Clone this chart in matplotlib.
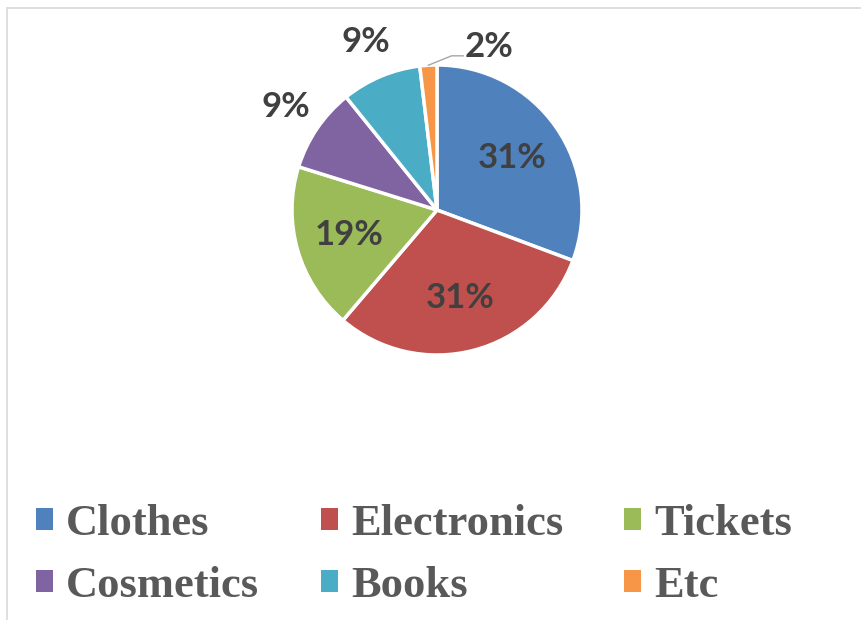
import matplotlib.pyplot as plt
import numpy as np
from matplotlib.patches import Rectangle

# purchase categories and their shares (%)
categories = ['Clothes', 'Electronics', 'Tickets', 'Cosmetics', 'Books', 'Etc']
shares = [30.7, 30.6, 18.6, 9.4, 8.9, 1.9]
colors = ['#4F81BD', '#C0504D', '#9BBB59', '#8064A2', '#4BACC6', '#F79646']

W, H = 861, 620
fig = plt.figure(figsize=(W / 100, H / 100), dpi=100)

# light frame like the office chart area
fig.patches.append(Rectangle((7 / W, -0.05), 1.1, 1 - 8 / H + 0.05, transform=fig.transFigure,
                             fill=False, edgecolor='#d9d9d9', linewidth=1.2))

cx, cy, r = 437, 210, 145
ax = fig.add_axes([(cx - r) / W, (H - cy - r) / H, 2 * r / W, 2 * r / H])

wedges, _ = ax.pie(shares, colors=colors, startangle=90, counterclock=False,
                   wedgeprops=dict(edgecolor='white', linewidth=2.5))
ax.set_xlim(-1, 1)
ax.set_ylim(-1, 1)
ax.set_aspect('equal')

total = sum(shares)
lblfont = dict(fontsize=25, fontweight='bold', color='#404040', family='Lato')
for w, v in zip(wedges, shares):
    mid = np.deg2rad((w.theta1 + w.theta2) / 2)
    pct = '%.0f%%' % (v / total * 100)
    if v > 15:
        ax.text(0.63 * np.cos(mid), 0.63 * np.sin(mid), pct, ha='center', va='center',
                clip_on=False, **lblfont)
    elif v > 5:
        ax.text(1.26 * np.cos(mid), 1.26 * np.sin(mid), pct, ha='center', va='center',
                clip_on=False, **lblfont)
    else:
        # tiny slice: leader line out to the right
        x0, y0 = np.cos(mid), np.sin(mid)
        x1, y1 = x0 + 0.16, y0 + 0.065
        x2 = x1 + 0.08
        ax.plot([x0, x1, x2], [y0, y1, y1], color='#a6a6a6', lw=1, clip_on=False)
        ax.text(x2 + 0.01, y1 + 0.06, pct, ha='left', va='center', clip_on=False, **lblfont)

# legend reads row by row: reorder for matplotlib's column-first fill
order = [0, 3, 1, 4, 2, 5]
leg = fig.legend([wedges[i] for i in order], [categories[i] for i in order],
                 loc='center left', bbox_to_anchor=(36 / W, 1 - 555 / H),
                 ncol=3, frameon=False, borderpad=0, borderaxespad=0,
                 handlelength=0.38, handleheight=0.38, handletextpad=0.3,
                 columnspacing=1.38, labelspacing=0.5,
                 prop=dict(family='Liberation Serif', weight='bold', size=32))
for t in leg.get_texts():
    t.set_color('#595959')
for h in leg.legend_handles:
    h.set_edgecolor('none')

plt.savefig('out.png', dpi=100)
